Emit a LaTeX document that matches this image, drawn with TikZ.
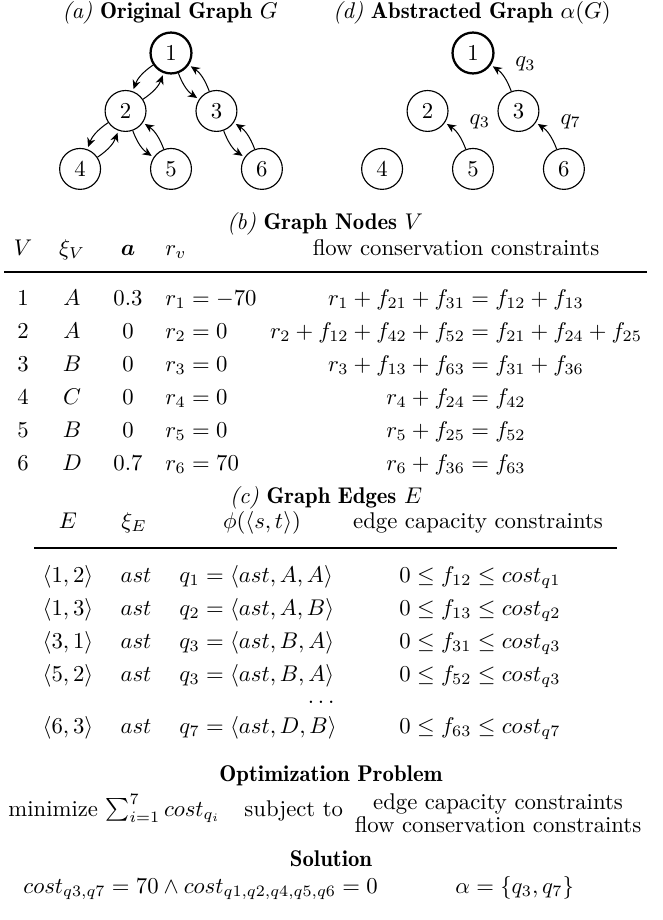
\documentclass[tikz,border=0pt]{standalone}
\usepackage{amsmath,amssymb}
\usetikzlibrary{arrows.meta,positioning}

\newcommand{\hd}[1]{{\fontseries{b}\selectfont #1}}

\begin{document}
\begin{tikzpicture}[
    x=0.44pt, y=0.44pt,
    node distance=25.5pt and 20pt, on grid,
    vert/.style={circle, draw, line width=0.5pt, minimum size=18pt, inner sep=0pt},
    root/.style={vert, line width=1pt},
    edge/.style={-{Stealth[length=4pt,width=3.6pt]}, line width=0.45pt, shorten >=1pt},
    lbl/.style={inner sep=1pt},
    title/.style={anchor=base, inner sep=0pt},
    cell/.style={anchor=base, inner sep=0pt},
    lcell/.style={anchor=base west, inner sep=0pt},
    rule/.style={line width=1.1pt}
]
\useasboundingbox (0,0) rectangle (663,-920);

% (a) original graph
\node[title] (ta) at (170,-18) {\textit{(a)} \hd{Original Graph} $G$};
\node[root] (a1) at (171,-53) {1};
\node[vert, below left=of a1] (a2) {2};
\node[vert, below right=of a1] (a3) {3};
\node[vert, below left=of a2] (a4) {4};
\node[vert, below right=of a2] (a5) {5};
\node[vert, below right=of a3] (a6) {6};
\foreach \s/\t in {1/2,2/1,1/3,3/1,2/4,4/2,2/5,5/2,3/6,6/3}
  \draw[edge] (a\s) to[bend right=18] (a\t);

% (d) abstracted graph
\node[title] (td) at (472,-18) {\textit{(d)} \hd{Abstracted Graph} $\alpha(G)$};
\node[root] (d1) at (473,-53) {1};
\node[vert, below left=of d1] (d2) {2};
\node[vert, below right=of d1] (d3) {3};
\node[vert, below left=of d2] (d4) {4};
\node[vert, below right=of d2] (d5) {5};
\node[vert, below right=of d3] (d6) {6};
\draw[edge] (d3) to[bend right=18] node[lbl, above right=1pt and 4pt] (q31) {$q_3$} (d1);
\draw[edge] (d5) to[bend right=18] node[lbl, above right=1pt and 4pt] (q52) {$q_3$} (d2);
\draw[edge] (d6) to[bend right=18] node[lbl, above right=1pt and 4pt] (q63) {$q_7$} (d3);

% (b) graph nodes
\node[title] (tb) at (325,-229) {\textit{(b)} \hd{Graph Nodes} $V$};
\node[cell] (hv) at (23,-255) {$V$};
\node[cell] (hxi) at (72,-255) {$\xi_V$};
\node[cell] (ha) at (128,-255) {$\boldsymbol{a}$};
\node[lcell] (hr) at (165,-255) {$r_v$};
\node[cell] (hfc) at (456,-255) {flow conservation constraints};
\draw[rule] (4,-272) -- (647,-272);
\foreach \vid/\lab/\aval/\rv/\fc [count=\k] in {
    1/A/0.3/{r_1 = -70}/{r_1 + f_{21} + f_{31} = f_{12} + f_{13}},
    2/A/0/{r_2 = 0}/{r_2 + f_{12} + f_{42} + f_{52} = f_{21} + f_{24} + f_{25}},
    3/B/0/{r_3 = 0}/{r_3 + f_{13} + f_{63} = f_{31} + f_{36}},
    4/C/0/{r_4 = 0}/{r_4 + f_{24} = f_{42}},
    5/B/0/{r_5 = 0}/{r_5 + f_{25} = f_{52}},
    6/D/0.7/{r_6 = 70}/{r_6 + f_{36} = f_{63}}} {
  \node[cell] (nv\k) at (23,{-272-33*\k}) {\vid};
  \node[cell] (nx\k) at (72,{-272-33*\k}) {$\lab$};
  \node[cell] (na\k) at (128,{-272-33*\k}) {\aval};
  \node[lcell] (nr\k) at (165,{-272-33*\k}) {$\rv$};
  \node[cell] (nf\k) at (456,{-272-33*\k}) {$\fc$};
}

% (c) graph edges
\node[title] (tc) at (326,-503) {\textit{(c)} \hd{Graph Edges} $E$};
\node[cell] (he) at (68,-528) {$E$};
\node[cell] (hxe) at (134,-528) {$\xi_E$};
\node[cell] (hphi) at (262,-528) {$\phi(\langle s,t\rangle)$};
\node[cell] (hcap) at (478,-528) {edge capacity constraints};
\draw[rule] (34,-548) -- (617,-548);
\foreach \ee/\qq/\cp/\yy [count=\k] in {
    {\langle 1,2\rangle}/{q_1 = \langle ast, A, A\rangle}/{0 \le f_{12} \le cost_{q1}}/582,
    {\langle 1,3\rangle}/{q_2 = \langle ast, A, B\rangle}/{0 \le f_{13} \le cost_{q2}}/615,
    {\langle 3,1\rangle}/{q_3 = \langle ast, B, A\rangle}/{0 \le f_{31} \le cost_{q3}}/648,
    {\langle 5,2\rangle}/{q_3 = \langle ast, B, A\rangle}/{0 \le f_{52} \le cost_{q3}}/681,
    {\langle 6,3\rangle}/{q_7 = \langle ast, D, B\rangle}/{0 \le f_{63} \le cost_{q7}}/733} {
  \node[cell] (ee\k) at (68,-\yy) {$\ee$};
  \node[cell] (ex\k) at (136,-\yy) {$ast$};
  \node[lcell] (eq\k) at (179,-\yy) {$\qq$};
  \node[cell] (ec\k) at (480,-\yy) {$\cp$};
}
\node[cell] (edots) at (323,-703) {$\dots$};

% optimization problem
\node[title] (topt) at (331,-781) {\hd{Optimization Problem}};
\node[lcell] (minz) at (8,-816) {minimize $\sum_{i=1}^{7} cost_{q_i}$};
\node[lcell] (subj) at (244,-816) {subject to};
\node[align=center, inner sep=0pt] (cons) at (498,-813) {edge capacity constraints\\[-2pt]flow conservation constraints};

% solution
\node[title] (tsol) at (331,-866) {\hd{Solution}};
\node[lcell] (sol) at (23,-893) {$cost_{q3,q7} = 70 \wedge cost_{q1,q2,q4,q5,q6} = 0$};
\node[lcell] (alp) at (455,-893) {$\alpha = \{q_3, q_7\}$};
\end{tikzpicture}
\end{document}
